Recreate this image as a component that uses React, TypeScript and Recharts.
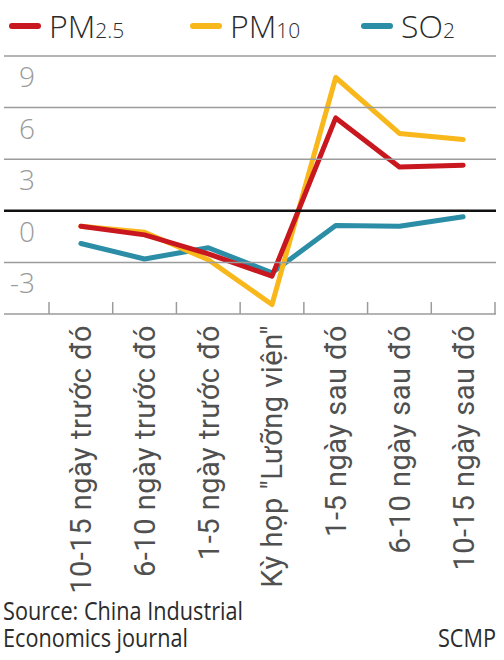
import React from "react";
import { LineChart, Line, XAxis, YAxis } from "recharts";

const categories = [
  "10-15 ngày trước đó",
  "6-10 ngày trước đó",
  "1-5 ngày trước đó",
  'Kỳ họp "Lưỡng viện"',
  "1-5 ngày sau đó",
  "6-10 ngày sau đó",
  "10-15 ngày sau đó",
];
const pm25 = [-0.9, -1.4, -2.5, -3.8, 5.4, 2.55, 2.65];
const pm10 = [-0.9, -1.25, -2.85, -5.45, 7.75, 4.5, 4.15];
const so2 = [-1.9, -2.8, -2.15, -3.6, -0.85, -0.9, -0.35];
const yTicks = [-6, -3, 0, 3, 6, 9];

const W = 504;
const H = 660;
const PLOT_LEFT = 49;
const PLOT_RIGHT = 495;
const PLOT_TOP = 56;
const PLOT_BOTTOM = 314;
const X_AXIS_H = 300;
const BAND = (PLOT_RIGHT - PLOT_LEFT) / categories.length;

const RED = "#c8171e";
const YELLOW = "#f8b71b";
const TEAL = "#2b8da6";

const data = categories.map((c, i) => ({
  label: c,
  pm25: pm25[i],
  pm10: pm10[i],
  so2: so2[i],
}));

function YTick(props: any) {
  const { y, payload } = props;
  const v = payload.value;
  const zero = v === 0;
  return (
    <g>
      <line
        x1={4}
        x2={W - 8}
        y1={y}
        y2={y}
        stroke={zero ? "#111" : "#9b9b9b"}
        strokeWidth={zero ? 2.5 : 1.5}
      />
      {v !== -6 && (
        <text
          x={35}
          y={y + 31}
          textAnchor="end"
          fontFamily="'Open Sans', sans-serif"
          fontWeight={300}
          fontSize={28}
          fill="#9a9a9a"
        >
          {v}
        </text>
      )}
    </g>
  );
}

function XTick(props: any) {
  const { x, y, payload, index } = props;
  const half = BAND / 2;
  const last = index === categories.length - 1;
  return (
    <g>
      <line x1={x - half} x2={x - half} y1={y - 12} y2={y} stroke="#9b9b9b" strokeWidth={1.5} />
      {last && (
        <line x1={x + half} x2={x + half} y1={y - 12} y2={y} stroke="#9b9b9b" strokeWidth={1.5} />
      )}
      <text
        x={x}
        y={y + 11}
        dy="0.36em"
        textAnchor="end"
        transform={`rotate(-90, ${x}, ${y + 11})`}
        fontFamily="Roboto, 'Liberation Sans', sans-serif"
        fontSize={29}
        letterSpacing={0.5}
        fill="#505050"
      >
        {payload.value}
      </text>
    </g>
  );
}

function LegendItem({ x, color, main, sub }: { x: number; color: string; main: string; sub: string }) {
  return (
    <g>
      <line x1={x} x2={x + 26} y1={26} y2={26} stroke={color} strokeWidth={6} strokeLinecap="round" />
      <text x={x + 37} y={38} fontFamily="'Open Sans', sans-serif" fontWeight={300} fontSize={32} fill="#2b2b2b">
        {main}
        <tspan fontSize={21}>{sub}</tspan>
      </text>
    </g>
  );
}

export default function App() {
  return (
    <div style={{ position: "absolute", left: 0, top: 0, width: W, height: H, background: "#fff" }}>
      <LineChart
        width={W}
        height={H}
        data={data}
        margin={{ top: PLOT_TOP, right: W - PLOT_RIGHT, bottom: H - PLOT_BOTTOM - X_AXIS_H, left: 0 }}
      >
        <YAxis
          width={PLOT_LEFT}
          domain={[-6, 9]}
          ticks={yTicks}
          interval={0}
          axisLine={false}
          tickLine={false}
          tick={<YTick />}
        />
        <XAxis
          dataKey="label"
          height={X_AXIS_H}
          padding={{ left: BAND / 2, right: BAND / 2 }}
          interval={0}
          axisLine={false}
          tickLine={false}
          tickSize={0}
          tickMargin={0}
          tick={<XTick />}
        />
        <Line dataKey="so2" stroke={TEAL} strokeWidth={5} dot={false} strokeLinecap="round" strokeLinejoin="round" isAnimationActive={false} />
        <Line dataKey="pm10" stroke={YELLOW} strokeWidth={5} dot={false} strokeLinecap="round" strokeLinejoin="round" isAnimationActive={false} />
        <Line dataKey="pm25" stroke={RED} strokeWidth={5} dot={false} strokeLinecap="round" strokeLinejoin="round" isAnimationActive={false} />
      </LineChart>
      <svg width={W} height={H} style={{ position: "absolute", left: 0, top: 0, pointerEvents: "none" }}>
        <LegendItem x={12} color={RED} main="PM" sub="2.5" />
        <LegendItem x={193} color={YELLOW} main="PM" sub="10" />
        <LegendItem x={364} color={TEAL} main="SO" sub="2" />
        <text x={3} y={620} fontFamily="'Open Sans', sans-serif" fontSize={25} fill="#2b2b2b" textLength={240} lengthAdjust="spacingAndGlyphs">
          Source: China Industrial
        </text>
        <text x={3} y={647} fontFamily="'Open Sans', sans-serif" fontSize={25} fill="#2b2b2b" textLength={185} lengthAdjust="spacingAndGlyphs">
          Economics journal
        </text>
        <text x={496} y={647} textAnchor="end" fontFamily="'Open Sans', sans-serif" fontSize={25} fill="#2b2b2b" textLength={58} lengthAdjust="spacingAndGlyphs">
          SCMP
        </text>
      </svg>
    </div>
  );
}
